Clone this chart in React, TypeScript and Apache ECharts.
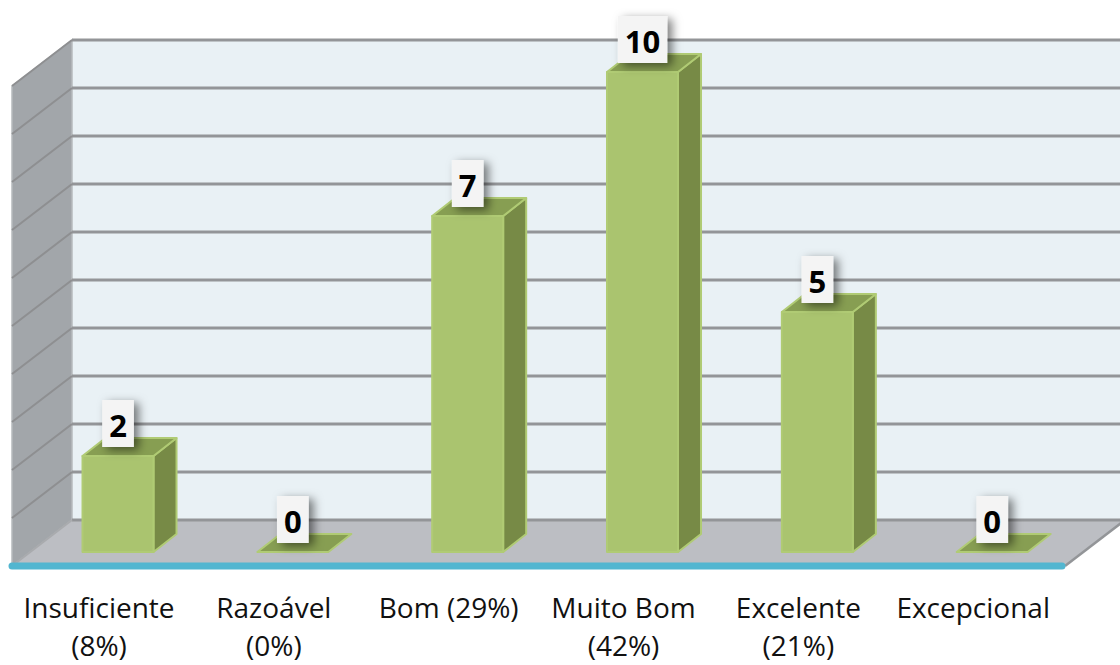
import React, { useEffect, useRef } from "react";
import * as echarts from "echarts";

const categories = ["Insuficiente\n(8%)", "Razoável\n(0%)", "Bom (29%)", "Muito Bom\n(42%)", "Excelente\n(21%)", "Excepcional"];
const values = [2, 0, 7, 10, 5, 0];
const gridTicks = [0, 1, 2, 3, 4, 5, 6, 7, 8, 9, 10];

const COLORS = {
  back: "#e9f1f5", wall: "#a2a6aa", floor: "#bcbec3", grid: "#939598", wallGrid: "#8e8f91",
  front: "#aac46f", side: "#778a46", top: "#879e52", edge: "#b0cb74", base: "#52b6d0",
};
const BAR_W = 71;
const BAR_DX = 23, BAR_DY = -18;
const WALL_DX = 60, BACK_DY = -32, FRONT_DY = 14;
const WALL_LEFT = 12, FLOOR_RIGHT = 1065;

function renderWalls(params: any, api: any) {
  const y0 = api.coord([0, 0])[1];
  const y10 = api.coord([0, 10])[1];
  const backX = WALL_LEFT + WALL_DX;
  const backRight = FLOOR_RIGHT + WALL_DX;
  const children: any[] = [
    { type: "rect", shape: { x: backX, y: y10 + BACK_DY, width: backRight - backX, height: y0 - y10 }, style: { fill: COLORS.back } },
    { type: "polygon", shape: { points: [[WALL_LEFT, y10 + FRONT_DY], [backX, y10 + BACK_DY], [backX, y0 + BACK_DY], [WALL_LEFT, y0 + FRONT_DY]] }, style: { fill: COLORS.wall, stroke: "#b6babd", lineWidth: 1.5 } },
    { type: "polygon", shape: { points: [[WALL_LEFT, y0 + FRONT_DY], [backX, y0 + BACK_DY], [backRight, y0 + BACK_DY], [FLOOR_RIGHT, y0 + FRONT_DY]] }, style: { fill: COLORS.floor } },
  ];
  gridTicks.forEach((t) => {
    const y = api.coord([0, t])[1];
    children.push({ type: "line", shape: { x1: backX, y1: y + BACK_DY, x2: backRight, y2: y + BACK_DY }, style: { stroke: COLORS.grid, lineWidth: 3 } });
    children.push({ type: "line", shape: { x1: WALL_LEFT, y1: y + FRONT_DY, x2: backX, y2: y + BACK_DY }, style: { stroke: t === 0 ? "#a9abae" : COLORS.wallGrid, lineWidth: 2 } });
  });
  children.push({ type: "line", shape: { x1: FLOOR_RIGHT, y1: y0 + FRONT_DY, x2: backRight, y2: y0 + BACK_DY }, style: { stroke: COLORS.grid, lineWidth: 2.5 } });
  children.push({ type: "line", shape: { x1: WALL_LEFT, y1: y0 + FRONT_DY, x2: FLOOR_RIGHT - 3, y2: y0 + FRONT_DY }, style: { stroke: COLORS.base, lineWidth: 7, lineCap: "round" } });
  return { type: "group", children };
}

function renderBar(params: any, api: any) {
  const cat = api.value(0), val = api.value(1);
  const [cx, yTop] = api.coord([cat, val]);
  const yBase = api.coord([cat, 0])[1];
  const l = cx - BAR_W / 2 , r = cx + BAR_W / 2;
  const edge = { stroke: COLORS.edge, lineWidth: 2, lineJoin: "round" };
  const children: any[] = [];
  if (val > 0) {
    children.push({ type: "polygon", shape: { points: [[r, yTop], [r + BAR_DX, yTop + BAR_DY], [r + BAR_DX, yBase + BAR_DY], [r, yBase]] }, style: { fill: COLORS.side, ...edge } });
    children.push({ type: "rect", shape: { x: l, y: yTop, width: BAR_W, height: yBase - yTop }, style: { fill: COLORS.front, ...edge } });
  }
  children.push({ type: "polygon", shape: { points: [[l, yTop], [l + BAR_DX, yTop + BAR_DY], [r + BAR_DX, yTop + BAR_DY], [r, yTop]] }, style: { fill: COLORS.top, ...edge } });
  return { type: "group", children };
}

export default function App() {
  const ref = useRef<HTMLDivElement>(null);
  useEffect(() => {
    const chart = echarts.init(ref.current!, null, { renderer: "svg" });
    chart.setOption({
      animation: false,
      grid: { left: 30.6, top: 72, width: 1049, height: 480 },
      xAxis: {
        type: "category", data: categories,
        axisLine: { show: false }, axisTick: { show: false },
        axisLabel: { interval: 0, margin: 36, fontFamily: "Open Sans", fontSize: 28, lineHeight: 38, color: "#111", padding: [0, 38, 0, 0], hideOverlap: false },
      },
      yAxis: { type: "value", min: 0, max: 10, interval: 1, show: false, splitLine: { show: false } },
      series: [
        { type: "custom", z: 1, silent: true, data: [[0, 0]], renderItem: renderWalls, clip: false },
        { type: "custom", z: 2, silent: true, data: values.map((v, i) => [i, v]), encode: { x: 0, y: 1 }, renderItem: renderBar, clip: false },
        {
          type: "scatter", z: 3, silent: true, symbolSize: 0, itemStyle: { opacity: 1 }, data: values.map((v, i) => [i, v]),
          label: {
            show: true, position: "top", distance: 9, formatter: (p: any) => String(p.value[1]),
            fontFamily: "Open Sans", fontWeight: "bold", fontSize: 31, color: "#000", lineHeight: 45, padding: [2, 7, 0, 7],
            backgroundColor: "#f4f4f4", shadowColor: "rgba(0,0,0,0.5)", shadowBlur: 10, shadowOffsetX: 5, shadowOffsetY: 3,
          },
        },
      ],
    });
    return () => chart.dispose();
  }, []);
  return <div ref={ref} style={{ position: "fixed", left: 0, top: 0, width: 1120, height: 665, background: "#fff" }} />;
}
